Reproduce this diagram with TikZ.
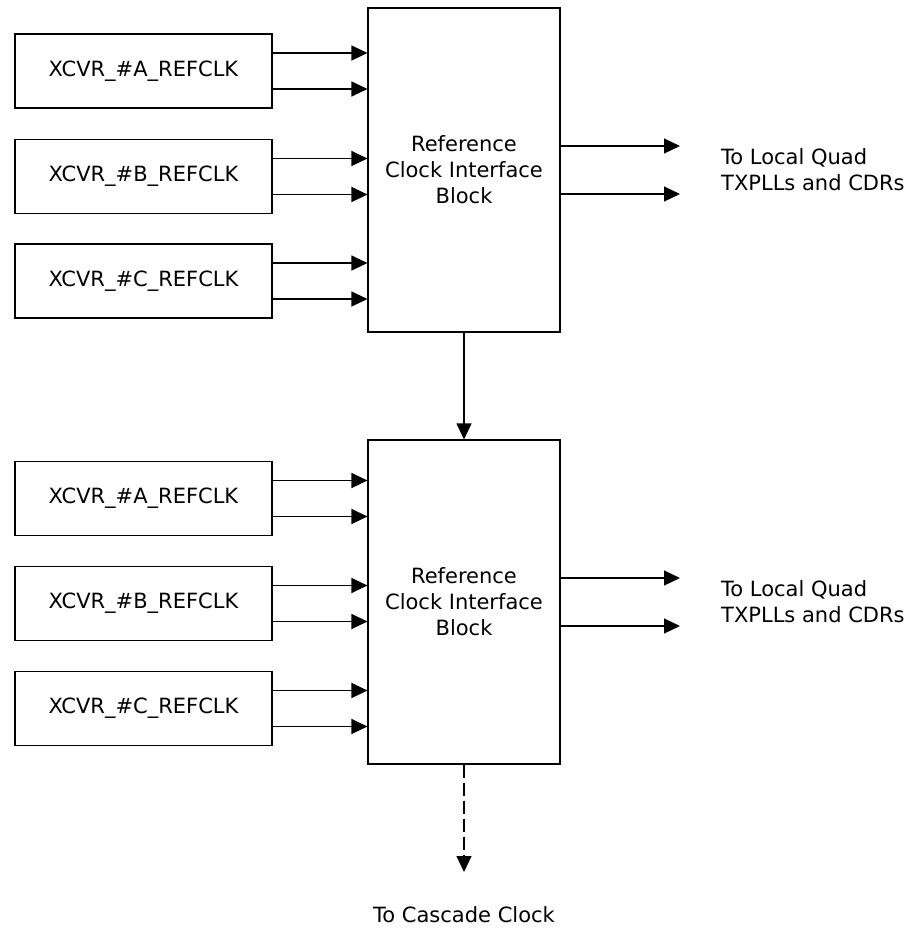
\documentclass[tikz,border=0pt]{standalone}
\usepackage{fontspec}
\setmainfont{DejaVu Sans}
\usetikzlibrary{arrows.meta}

\begin{document}
\begin{tikzpicture}[x=1pt,y=-1pt,
  every node/.style={font=\fontsize{21}{26}\selectfont},
  clkbox/.style={draw,line width=1.1pt,minimum width=257pt,minimum height=74pt,inner sep=0pt},
  ifblock/.style={draw,line width=1.1pt,minimum width=192pt,minimum height=324pt,align=center,inner sep=0pt},
  sig/.style={-{Triangle[length=16pt,width=15pt]},line width=1.1pt}]
\useasboundingbox (0,0) rectangle (914,930);
% upper interface block
\node[ifblock] (blkT) at (464,170) {Reference\\Clock Interface\\Block};
\node[clkbox] (xaT) at (143.5,71) {XCVR\_\#A\_REFCLK};
\node[clkbox] (xbT) at (143.5,176.5) {XCVR\_\#B\_REFCLK};
\node[clkbox] (xcT) at (143.5,281) {XCVR\_\#C\_REFCLK};
\draw[sig] ([yshift=18pt]xaT.east) -- ([yshift=18pt]xaT.east -| blkT.west);
\draw[sig] ([yshift=-18pt]xaT.east) -- ([yshift=-18pt]xaT.east -| blkT.west);
\draw[sig] ([yshift=18pt]xbT.east) -- ([yshift=18pt]xbT.east -| blkT.west);
\draw[sig] ([yshift=-18pt]xbT.east) -- ([yshift=-18pt]xbT.east -| blkT.west);
\draw[sig] ([yshift=18pt]xcT.east) -- ([yshift=18pt]xcT.east -| blkT.west);
\draw[sig] ([yshift=-18pt]xcT.east) -- ([yshift=-18pt]xcT.east -| blkT.west);
\coordinate (oT1) at (680,146);
\coordinate (oT2) at (680,194);
\draw[sig] (blkT.east |- oT1) -- (oT1);
\draw[sig] (blkT.east |- oT2) -- (oT2);
\node[anchor=west,align=left,inner sep=0pt] (lqT) at (721,170) {To Local Quad\\TXPLLs and CDRs};
% lower interface block
\node[ifblock] (blkB) at (464,602) {Reference\\Clock Interface\\Block};
\node[clkbox] (xaB) at (143.5,498.5) {XCVR\_\#A\_REFCLK};
\node[clkbox] (xbB) at (143.5,603.5) {XCVR\_\#B\_REFCLK};
\node[clkbox] (xcB) at (143.5,708.5) {XCVR\_\#C\_REFCLK};
\draw[sig] ([yshift=18pt]xaB.east) -- ([yshift=18pt]xaB.east -| blkB.west);
\draw[sig] ([yshift=-18pt]xaB.east) -- ([yshift=-18pt]xaB.east -| blkB.west);
\draw[sig] ([yshift=18pt]xbB.east) -- ([yshift=18pt]xbB.east -| blkB.west);
\draw[sig] ([yshift=-18pt]xbB.east) -- ([yshift=-18pt]xbB.east -| blkB.west);
\draw[sig] ([yshift=18pt]xcB.east) -- ([yshift=18pt]xcB.east -| blkB.west);
\draw[sig] ([yshift=-18pt]xcB.east) -- ([yshift=-18pt]xcB.east -| blkB.west);
\coordinate (oB1) at (680,578);
\coordinate (oB2) at (680,626);
\draw[sig] (blkB.east |- oB1) -- (oB1);
\draw[sig] (blkB.east |- oB2) -- (oB2);
\node[anchor=west,align=left,inner sep=0pt] (lqB) at (721,602) {To Local Quad\\TXPLLs and CDRs};
% cascade
\draw[sig] (blkT.south) -- (blkB.north);
\coordinate (casc) at (464,872);
\node (cascT) at (464,915) {To Cascade Clock};
\draw[sig,dash pattern=on 13pt off 5pt] (blkB.south) -- (casc);
\end{tikzpicture}
\end{document}
